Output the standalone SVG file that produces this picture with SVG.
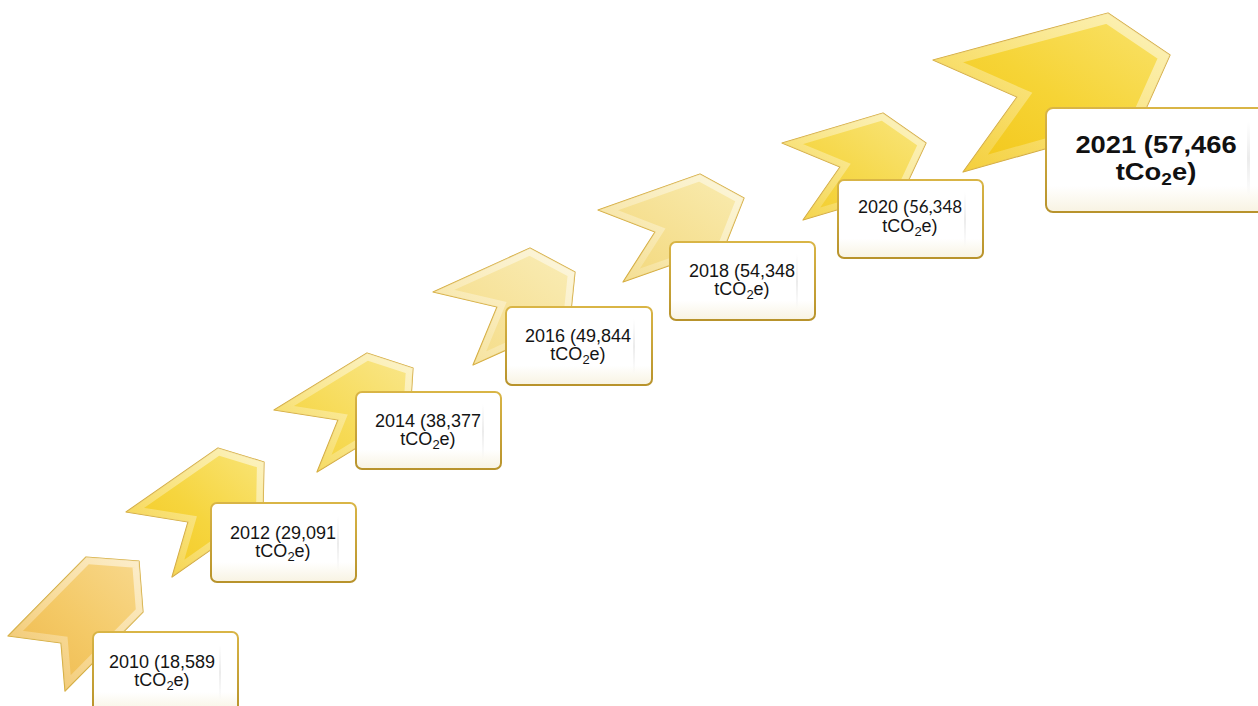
<svg xmlns="http://www.w3.org/2000/svg" xmlns:xlink="http://www.w3.org/1999/xlink" width="1258" height="706" viewBox="0 0 1258 706">
<style>
.edge{stroke:#D3A832;stroke-width:1.2;stroke-linejoin:round}
.bev{fill:none;stroke:url(#bevel);stroke-width:14;stroke-linejoin:miter}
.bevL{fill:none;stroke:url(#bevel);stroke-width:20;stroke-linejoin:miter}
.box{fill:url(#boxFill);stroke:url(#boxStroke);stroke-width:2}
.glare{fill:url(#glare)}
.t{font-family:"Liberation Sans",Arial,sans-serif;font-size:18px;fill:#141414;text-anchor:middle}
.tb{font-family:"Liberation Sans",Arial,sans-serif;font-size:23px;font-weight:bold;fill:#111;text-anchor:middle}
</style>
<defs>
<polygon id="p1" points="8,636 86,557 139,561 143,612 65,691 61,643"/>
<polygon id="p2" points="126,512 218,448 264,462 263,513 172,577 188,522"/>
<polygon id="p3" points="274,410 367,353 413,368 410,415 317,472 338,420"/>
<polygon id="p4" points="433,292 530,248 575,272 570,321 473,365 497,307"/>
<polygon id="p5" points="598,210 700,174 744,198 725,246 623,282 655,232"/>
<polygon id="p6" points="782,143 883,113 926,143 904,190 803,220 840,167"/>
<polygon id="p7" points="933,60 1108,13 1170,55 1140,122 963,172 1017,97"/>
<clipPath id="k1"><use xlink:href="#p1"/></clipPath>
<clipPath id="k2"><use xlink:href="#p2"/></clipPath>
<clipPath id="k3"><use xlink:href="#p3"/></clipPath>
<clipPath id="k4"><use xlink:href="#p4"/></clipPath>
<clipPath id="k5"><use xlink:href="#p5"/></clipPath>
<clipPath id="k6"><use xlink:href="#p6"/></clipPath>
<clipPath id="k7"><use xlink:href="#p7"/></clipPath>
<linearGradient id="f1" x1="1" y1="0" x2="0" y2="1"><stop offset="0" stop-color="#F8D98E"/><stop offset="0.5" stop-color="#F4C966"/><stop offset="1" stop-color="#EDB649"/></linearGradient>
<linearGradient id="f2" x1="1" y1="0" x2="0" y2="1"><stop offset="0" stop-color="#F9E57A"/><stop offset="0.5" stop-color="#F6D53E"/><stop offset="1" stop-color="#F2C61C"/></linearGradient>
<linearGradient id="f3" x1="1" y1="0" x2="0" y2="1"><stop offset="0" stop-color="#F9E78E"/><stop offset="0.5" stop-color="#F7DC5C"/><stop offset="1" stop-color="#F3CF30"/></linearGradient>
<linearGradient id="f4" x1="1" y1="0" x2="0" y2="1"><stop offset="0" stop-color="#F9EDB8"/><stop offset="0.5" stop-color="#F7E39C"/><stop offset="1" stop-color="#F3DA80"/></linearGradient>
<linearGradient id="f5" x1="1" y1="0" x2="0" y2="1"><stop offset="0" stop-color="#F9ECB2"/><stop offset="0.5" stop-color="#F6E195"/><stop offset="1" stop-color="#F2D676"/></linearGradient>
<linearGradient id="f6" x1="1" y1="0" x2="0" y2="1"><stop offset="0" stop-color="#F9E680"/><stop offset="0.5" stop-color="#F6D94E"/><stop offset="1" stop-color="#F2CA24"/></linearGradient>
<linearGradient id="f7" x1="1" y1="0" x2="0" y2="1"><stop offset="0" stop-color="#F9E36E"/><stop offset="0.5" stop-color="#F6D436"/><stop offset="1" stop-color="#F2C414"/></linearGradient>
<linearGradient id="bevel" x1="1" y1="0" x2="0" y2="1"><stop offset="0" stop-color="#FFFFFF" stop-opacity="0.55"/><stop offset="0.6" stop-color="#FFFFFF" stop-opacity="0.3"/><stop offset="1" stop-color="#FFFFFF" stop-opacity="0.12"/></linearGradient>
<linearGradient id="boxFill" x1="0" y1="0" x2="0" y2="1"><stop offset="0" stop-color="#FFFFFF"/><stop offset="0.75" stop-color="#FFFFFF"/><stop offset="1" stop-color="#F8F3E2"/></linearGradient>
<linearGradient id="boxStroke" x1="0" y1="0" x2="0" y2="1"><stop offset="0" stop-color="#D9B546"/><stop offset="1" stop-color="#B8932C"/></linearGradient>
<linearGradient id="glare" x1="0" y1="0" x2="0" y2="1"><stop offset="0" stop-color="#D8D8D8" stop-opacity="0"/><stop offset="0.5" stop-color="#D8D8D8" stop-opacity="0.5"/><stop offset="1" stop-color="#D8D8D8" stop-opacity="0"/></linearGradient>
</defs>
<rect width="1258" height="706" fill="#FFFFFF"/>
<g id="connectors"></g>

<g id="node-2010">
<use xlink:href="#p1" fill="url(#f1)" class="edge"/>
<use xlink:href="#p1" class="bev" clip-path="url(#k1)"/>
<rect class="box" x="93" y="632" width="145" height="80" rx="6"/>
<rect class="glare" x="219" y="645" width="2" height="55"/>
<text class="t" x="162" y="668">2010 (18,589</text>
<text class="t" x="162" y="686">tCO<tspan font-size="13" dy="4">2</tspan><tspan dy="-4">e)</tspan></text>
</g>

<g id="node-2012">
<use xlink:href="#p2" fill="url(#f2)" class="edge"/>
<use xlink:href="#p2" class="bev" clip-path="url(#k2)"/>
<rect class="box" x="211" y="503" width="145" height="79" rx="6"/>
<rect class="glare" x="337" y="516" width="2" height="55"/>
<text class="t" x="283" y="539">2012 (29,091</text>
<text class="t" x="283" y="557">tCO<tspan font-size="13" dy="4">2</tspan><tspan dy="-4">e)</tspan></text>
</g>

<g id="node-2014">
<use xlink:href="#p3" fill="url(#f3)" class="edge"/>
<use xlink:href="#p3" class="bev" clip-path="url(#k3)"/>
<rect class="box" x="356" y="392" width="145" height="77" rx="6"/>
<rect class="glare" x="482" y="404" width="2" height="55"/>
<text class="t" x="428" y="427">2014 (38,377</text>
<text class="t" x="428" y="445">tCO<tspan font-size="13" dy="4">2</tspan><tspan dy="-4">e)</tspan></text>
</g>

<g id="node-2016">
<use xlink:href="#p4" fill="url(#f4)" class="edge"/>
<use xlink:href="#p4" class="bev" clip-path="url(#k4)"/>
<rect class="box" x="506" y="307" width="146" height="78" rx="6"/>
<rect class="glare" x="633" y="319" width="2" height="55"/>
<text class="t" x="578" y="342">2016 (49,844</text>
<text class="t" x="578" y="360">tCO<tspan font-size="13" dy="4">2</tspan><tspan dy="-4">e)</tspan></text>
</g>

<g id="node-2018">
<use xlink:href="#p5" fill="url(#f5)" class="edge"/>
<use xlink:href="#p5" class="bev" clip-path="url(#k5)"/>
<rect class="box" x="670" y="242" width="145" height="78" rx="6"/>
<rect class="glare" x="796" y="254" width="2" height="55"/>
<text class="t" x="742" y="277">2018 (54,348</text>
<text class="t" x="742" y="295">tCO<tspan font-size="13" dy="4">2</tspan><tspan dy="-4">e)</tspan></text>
</g>

<g id="node-2020">
<use xlink:href="#p6" fill="url(#f6)" class="edge"/>
<use xlink:href="#p6" class="bev" clip-path="url(#k6)"/>
<rect class="box" x="838" y="180" width="145" height="78" rx="6"/>
<rect class="glare" x="964" y="192" width="2" height="55"/>
<text class="t" x="910" y="213">2020 (<tspan font-family="Lato, 'Liberation Sans', sans-serif" font-size="17">56,348</tspan></text>
<text class="t" x="910" y="232">tCO<tspan font-size="13" dy="4">2</tspan><tspan dy="-4">e)</tspan></text>
</g>

<g id="node-2021">
<use xlink:href="#p7" fill="url(#f7)" class="edge"/>
<use xlink:href="#p7" class="bevL" clip-path="url(#k7)"/>
<rect class="box" x="1046" y="108" width="230" height="104" rx="7"/>
<rect class="glare" x="1247" y="122" width="3" height="74"/>
<g transform="translate(1156,0) scale(1.19,1)">
<text class="tb" x="0" y="153">2021 (57,466</text>
<text class="tb" x="0" y="180">tCo<tspan font-size="16" dy="5">2</tspan><tspan dy="-5">e)</tspan></text>
</g>
</g>
</svg>
